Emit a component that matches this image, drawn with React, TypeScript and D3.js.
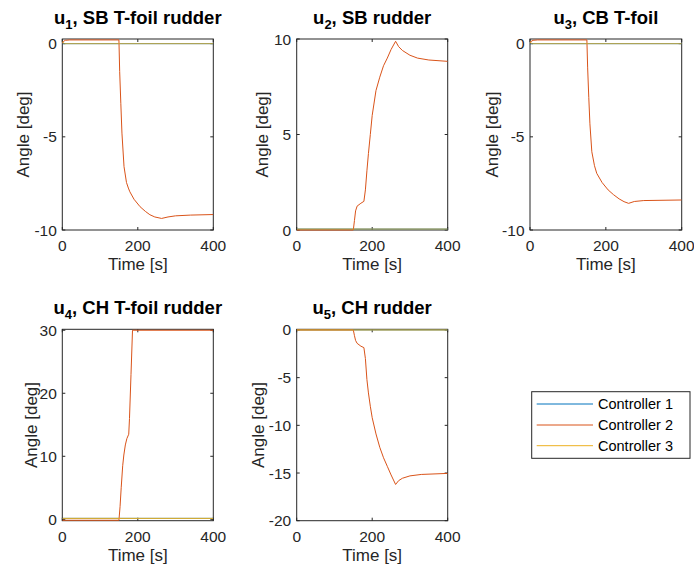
import React from "react";
import * as d3 from "d3";

// ---------- data ----------
const seriesNames = ["Controller 1", "Controller 2", "Controller 3"];
const seriesColors = ["#0072BD", "#D95319", "#EDB120"];
const xTicks = [0, 200, 400];

// u1 – SB T-foil rudder
const u1T = [0, 3, 8, 20, 150, 152, 155, 158, 163.5, 170, 175, 179, 190, 206, 220, 232, 245, 263, 280, 300, 340, 400];
const u1C2 = [0, 0.12, 0.18, 0.2, 0.2, -1.5, -3.2, -4.8, -6.6, -7.45, -7.75, -7.95, -8.35, -8.75, -9.0, -9.18, -9.3, -9.38, -9.3, -9.24, -9.2, -9.17];
const u1C1 = [0, 0];
const u1C3T = [0, 2, 6, 400];
const u1C3 = [0.12, 0.04, 0, 0];

// u2 – SB rudder
const u2T = [0, 150, 153, 156, 160, 170, 178, 182, 186, 190, 195, 200, 210, 220, 230, 240, 250, 262, 270, 280, 300, 320, 350, 400];
const u2C2 = [0, 0, 0.5, 1.0, 1.25, 1.4, 1.5, 2.1, 3.1, 4.0, 5.0, 6.0, 7.3, 8.0, 8.6, 9.0, 9.45, 9.88, 9.6, 9.4, 9.15, 9.0, 8.9, 8.83];
const u2C1 = [0.05, 0.05];
const u2C3 = [0.05, 0.05];

// u3 – CB T-foil
const u3T = [0, 3, 8, 20, 150, 152, 155, 158, 163, 170, 176, 190, 206, 220, 235, 248, 260, 275, 300, 400];
const u3C2 = [0, 0.12, 0.18, 0.2, 0.2, -1.3, -2.9, -4.3, -5.8, -6.55, -6.96, -7.45, -7.85, -8.1, -8.33, -8.48, -8.57, -8.47, -8.42, -8.39];
const u3C1 = [0, 0];
const u3C3T = [0, 2, 6, 400];
const u3C3 = [0.12, 0.04, 0, 0];

// u4 – CH T-foil rudder
const u4T = [0, 150, 153, 156, 160, 163, 167, 171, 176, 178, 182, 186, 400];
const u4C2 = [-0.15, -0.15, 2, 5, 8.5, 10.2, 11.8, 12.8, 13.5, 16, 23, 30, 30];
const u4C1 = [0.15, 0.15];
const u4C3 = [0.15, 0.15];

// u5 – CH rudder
const u5T = [0, 150, 153, 156, 160, 170, 178, 182, 186, 190, 195, 200, 210, 220, 230, 240, 250, 262, 270, 280, 300, 330, 400];
const u5C2 = [0, 0, -0.6, -1.1, -1.4, -1.7, -1.85, -3.0, -5.2, -6.6, -8.0, -9.2, -10.9, -12.3, -13.4, -14.3, -15.2, -16.2, -15.8, -15.55, -15.3, -15.15, -15.04];
const u5C1 = [0, 0];
const u5C3 = [0, 0];

const flatT = [0, 400];

// ---------- layout ----------
type Panel = {
  sub: string;
  rest: string;
  x0: number; x1: number; y0: number; y1: number;
  yDomain: [number, number];
  yTicks: number[];
  ylabX: number;
  series: { t: number[]; v: number[]; color: string; opacity: number }[];
};

const panels: Panel[] = [
  {
    sub: "1", rest: ", SB T-foil rudder",
    x0: 62.3, x1: 213.3, y0: 39, y1: 230,
    yDomain: [-10, 0.25], yTicks: [-10, -5, 0], ylabX: 29,
    series: [
      { t: flatT, v: u1C1, color: seriesColors[0], opacity: 1 },
      { t: u1T, v: u1C2, color: seriesColors[1], opacity: 1 },
      { t: u1C3T, v: u1C3, color: seriesColors[2], opacity: 0.8 },
    ],
  },
  {
    sub: "2", rest: ", SB rudder",
    x0: 296.7, x1: 447.7, y0: 39, y1: 230,
    yDomain: [0, 10], yTicks: [0, 5, 10], ylabX: 268,
    series: [
      { t: flatT, v: u2C1, color: seriesColors[0], opacity: 1 },
      { t: u2T, v: u2C2, color: seriesColors[1], opacity: 1 },
      { t: flatT, v: u2C3, color: seriesColors[2], opacity: 0.8 },
    ],
  },
  {
    sub: "3", rest: ", CB T-foil",
    x0: 530, x1: 681.7, y0: 39, y1: 230,
    yDomain: [-10, 0.25], yTicks: [-10, -5, 0], ylabX: 498,
    series: [
      { t: flatT, v: u3C1, color: seriesColors[0], opacity: 1 },
      { t: u3T, v: u3C2, color: seriesColors[1], opacity: 1 },
      { t: u3C3T, v: u3C3, color: seriesColors[2], opacity: 0.8 },
    ],
  },
  {
    sub: "4", rest: ", CH T-foil rudder",
    x0: 62.3, x1: 213.3, y0: 329.3, y1: 520.7,
    yDomain: [-0.22, 30.15], yTicks: [0, 10, 20, 30], ylabX: 36.5,
    series: [
      { t: flatT, v: u4C1, color: seriesColors[0], opacity: 1 },
      { t: u4T, v: u4C2, color: seriesColors[1], opacity: 1 },
      { t: flatT, v: u4C3, color: seriesColors[2], opacity: 1 },
    ],
  },
  {
    sub: "5", rest: ", CH rudder",
    x0: 296.7, x1: 447.7, y0: 329.3, y1: 520.7,
    yDomain: [-20, 0.07], yTicks: [-20, -15, -10, -5, 0], ylabX: 263.5,
    series: [
      { t: flatT, v: u5C1, color: seriesColors[0], opacity: 1 },
      { t: u5T, v: u5C2, color: seriesColors[1], opacity: 1 },
      { t: flatT, v: u5C3, color: seriesColors[2], opacity: 1 },
    ],
  },
];

const FONT = "'Liberation Sans', Arial, Helvetica, sans-serif";
const AX = "#262626";
const TICK = 3;

function PanelView({ p }: { p: Panel }) {
  const x = d3.scaleLinear().domain([0, 400]).range([p.x0, p.x1]);
  const y = d3.scaleLinear().domain(p.yDomain).range([p.y1, p.y0]);
  const line = d3
    .line<[number, number]>()
    .x((d) => x(d[0]))
    .y((d) => y(d[1]));
  const clipId = `clip-${p.sub}`;
  const cx = (p.x0 + p.x1) / 2;
  const cy = (p.y0 + p.y1) / 2;
  return (
    <g>
      <defs>
        <clipPath id={clipId}>
          <rect x={p.x0} y={p.y0 - 1} width={p.x1 - p.x0} height={p.y1 - p.y0 + 2} />
        </clipPath>
      </defs>
      <rect x={p.x0} y={p.y0} width={p.x1 - p.x0} height={p.y1 - p.y0} fill="#fff" stroke={AX} strokeWidth={1} />
      {xTicks.map((t) => (
        <g key={`xt${t}`}>
          <line x1={x(t)} x2={x(t)} y1={p.y1} y2={p.y1 - TICK} stroke={AX} />
          <line x1={x(t)} x2={x(t)} y1={p.y0} y2={p.y0 + TICK} stroke={AX} />
          <text x={x(t)} y={p.y1 + 21} textAnchor="middle" fontSize={15.5} fill={AX} fontFamily={FONT}>
            {t}
          </text>
        </g>
      ))}
      {p.yTicks.map((t) => (
        <g key={`yt${t}`}>
          <line x1={p.x0} x2={p.x0 + TICK} y1={y(t)} y2={y(t)} stroke={AX} />
          <line x1={p.x1} x2={p.x1 - TICK} y1={y(t)} y2={y(t)} stroke={AX} />
          <text x={p.x0 - 5.5} y={y(t) + 5.5} textAnchor="end" fontSize={15.5} fill={AX} fontFamily={FONT}>
            {t}
          </text>
        </g>
      ))}
      <g clipPath={`url(#${clipId})`}>
        {p.series.map((s, i) => (
          <path
            key={i}
            d={line(s.t.map((t, k) => [t, s.v[k]] as [number, number])) || ""}
            fill="none"
            stroke={s.color}
            strokeOpacity={s.opacity}
            strokeWidth={1}
          />
        ))}
      </g>
      <text x={cx} y={p.y1 + 40} textAnchor="middle" fontSize={17} fill={AX} fontFamily={FONT}>
        Time [s]
      </text>
      <text
        transform={`translate(${p.ylabX},${cy}) rotate(-90)`}
        textAnchor="middle"
        fontSize={17}
        fill={AX}
        fontFamily={FONT}
      >
        Angle [deg]
      </text>
      <text x={cx} y={p.y0 - 15} textAnchor="middle" fontSize={18.5} fontWeight="bold" fill="#000" fontFamily={FONT}>
        u
        <tspan fontSize={13} dy={5}>{p.sub}</tspan>
        <tspan dy={-5}>{p.rest}</tspan>
      </text>
    </g>
  );
}

export default function App() {
  const legX = 531.7, legY = 391.7, legW = 158.3, legH = 66.6;
  const rowY = [404, 425, 445.7];
  return (
    <svg width={694} height={571} style={{ position: "absolute", left: 0, top: 0, background: "#fff" }}>
      <rect width={694} height={571} fill="#fff" />
      {panels.map((p, i) => (
        <PanelView key={i} p={p} />
      ))}
      <rect x={legX} y={legY} width={legW} height={legH} fill="#fff" stroke={AX} strokeWidth={1} />
      {seriesNames.map((n, i) => (
        <g key={n}>
          <line x1={536.7} x2={593} y1={rowY[i]} y2={rowY[i]} stroke={seriesColors[i]} strokeWidth={1} />
          <text x={598} y={rowY[i] + 5} fontSize={14.5} fill="#000" fontFamily={FONT}>
            {n}
          </text>
        </g>
      ))}
    </svg>
  );
}
